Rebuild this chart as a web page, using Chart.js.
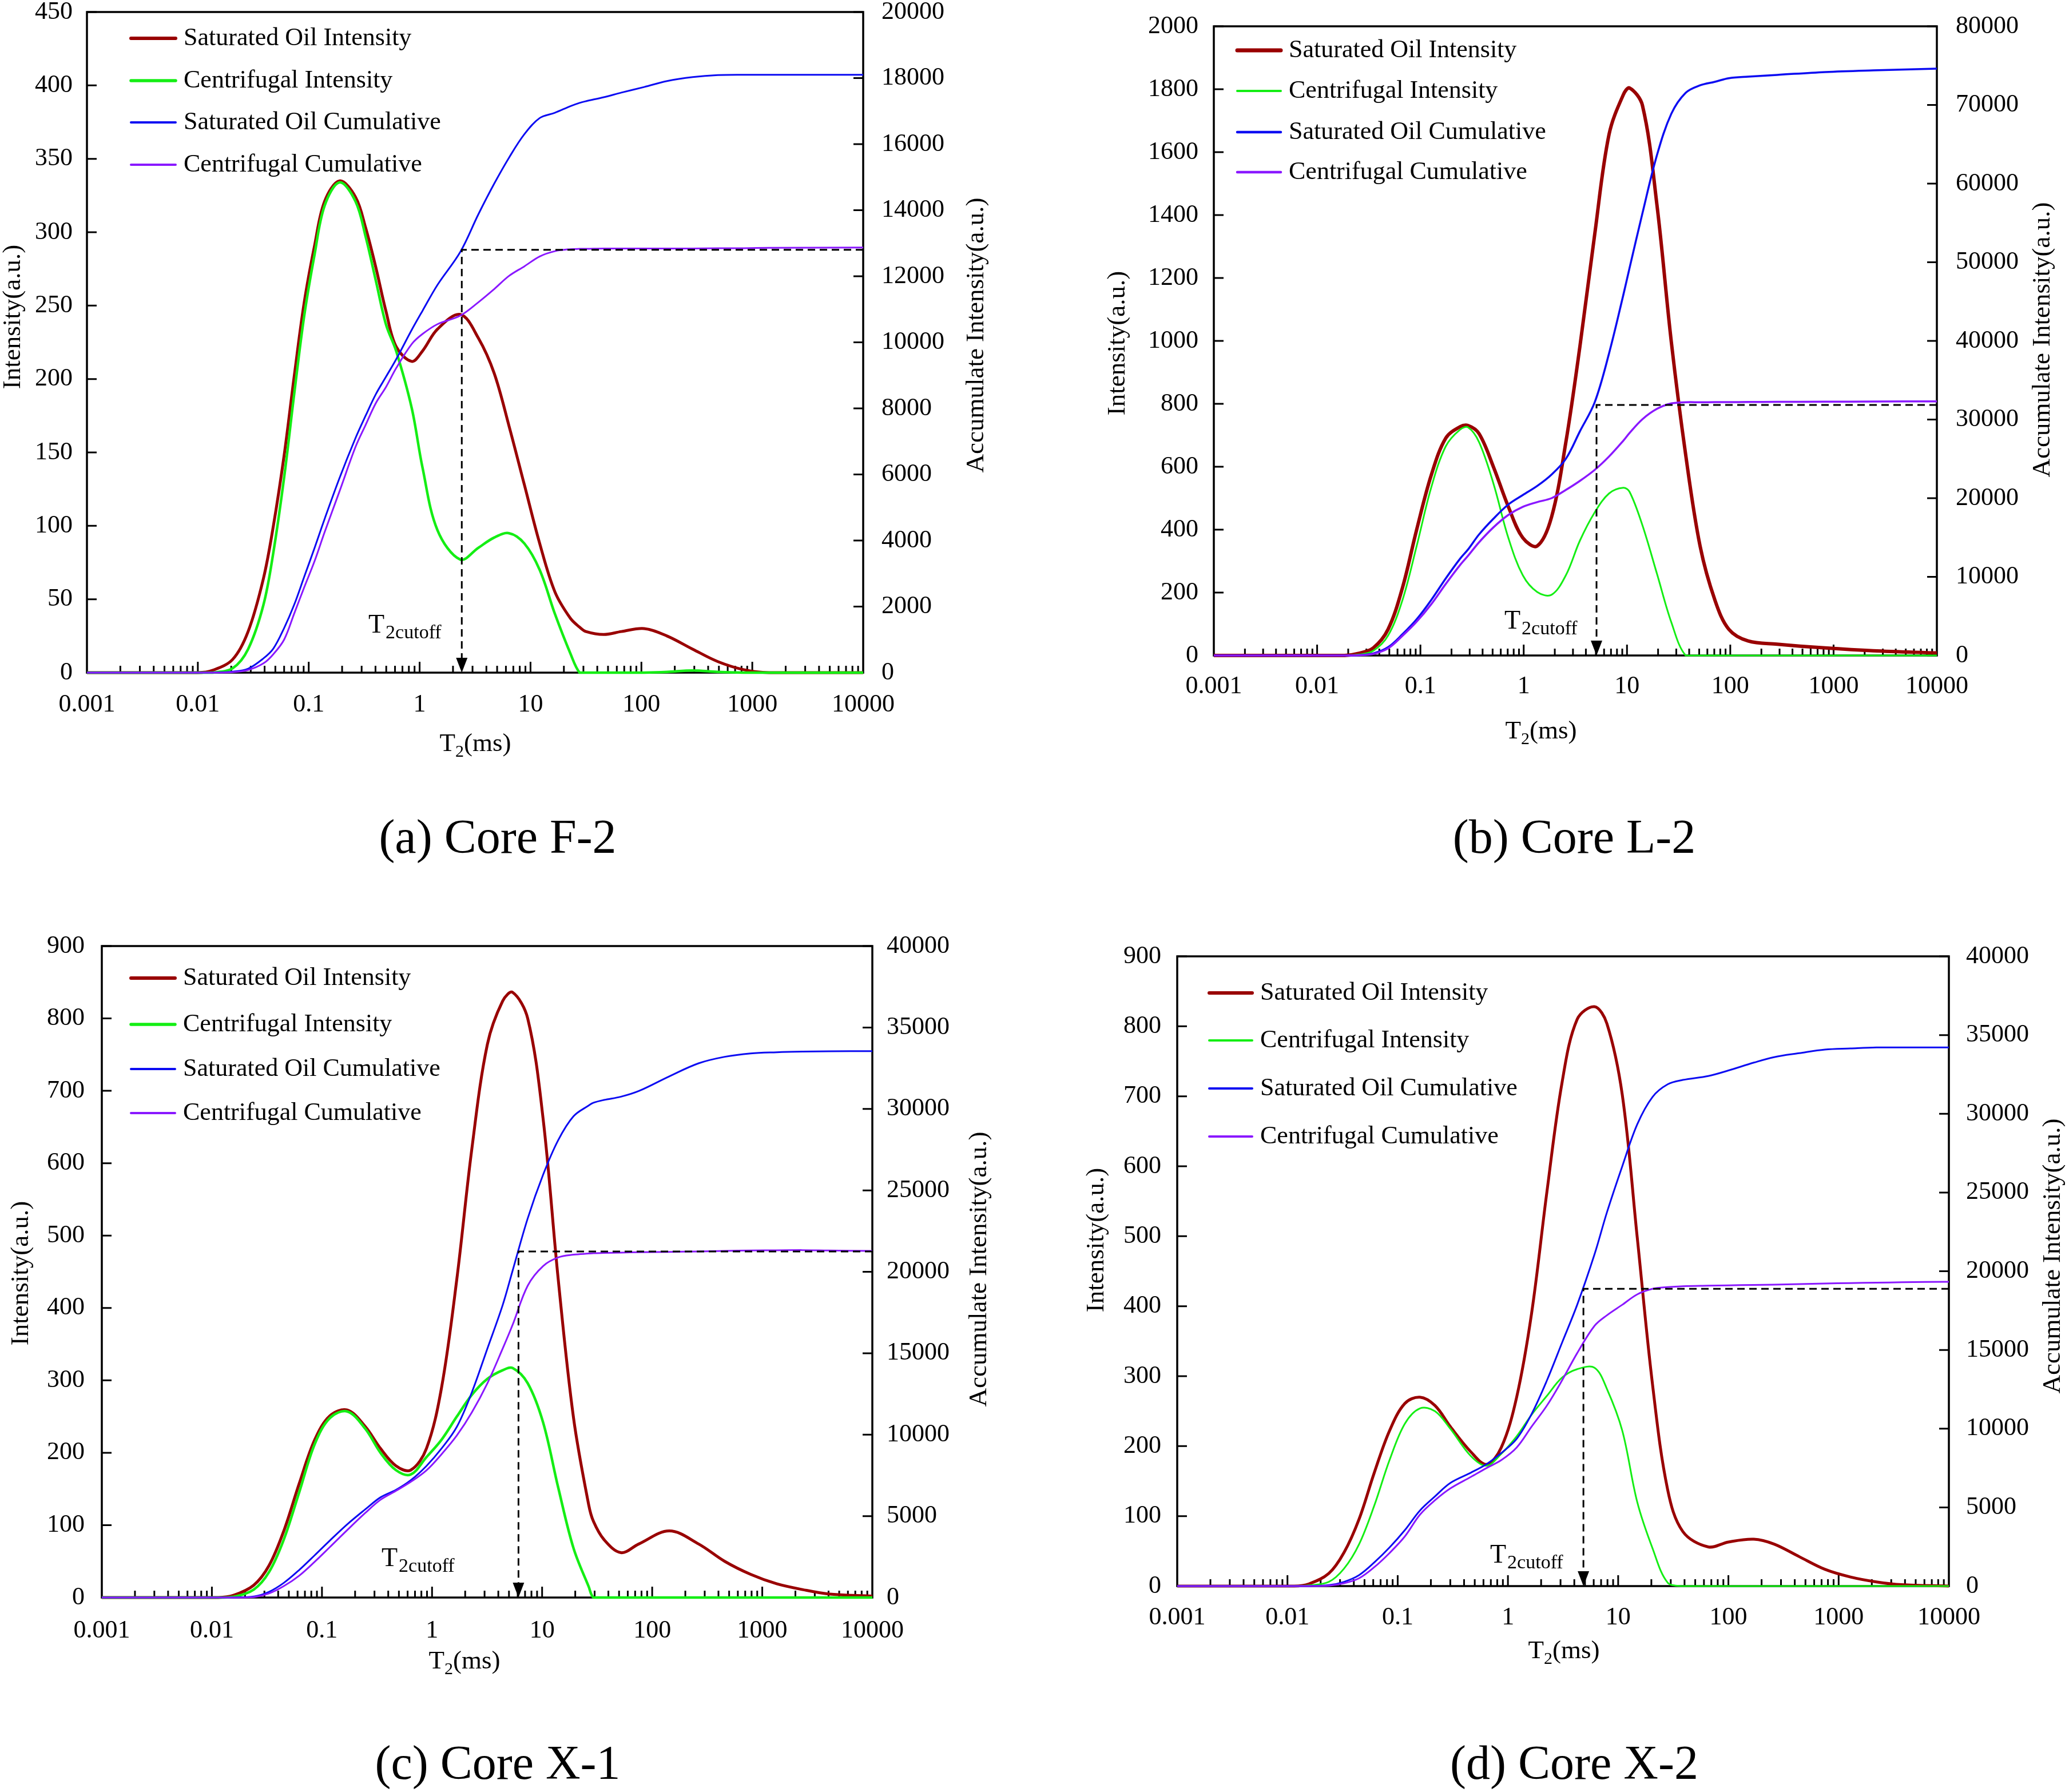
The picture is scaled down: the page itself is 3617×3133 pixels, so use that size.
<!DOCTYPE html>
<html>
<head>
<meta charset="utf-8">
<script src="https://cdn.jsdelivr.net/npm/chart.js@4.4.1/dist/chart.umd.min.js"></script>
<style>
html, body { margin: 0; padding: 0; background: #fff; }
body { width: 3617px; height: 3133px; position: relative; overflow: hidden; font-family: 'Liberation Serif', 'Times New Roman', serif; }
canvas { position: absolute; }
.cap { position: absolute; font-size: 84px; line-height: 1; transform: translate(-50%, -50%); white-space: nowrap; color: #000; }
</style>
</head>
<body>
<canvas id="cA"></canvas>
<canvas id="cB"></canvas>
<canvas id="cC"></canvas>
<canvas id="cD"></canvas>
<div class="cap" style="left:870px;top:1463px">(a) Core F-2</div>
<div class="cap" style="left:2752px;top:1463px">(b) Core L-2</div>
<div class="cap" style="left:870px;top:3082px">(c) Core X-1</div>
<div class="cap" style="left:2752px;top:3082px">(d) Core X-2</div>
<script>
// ---- data ----
var seriesNames = ['Saturated Oil Intensity', 'Centrifugal Intensity', 'Saturated Oil Cumulative', 'Centrifugal Cumulative'];
var xDecades = [0.001, 0.01, 0.1, 1, 10, 100, 1000, 10000];
var xTickLabels = ['0.001', '0.01', '0.1', '1', '10', '100', '1000', '10000'];

// (a) Core F-2
var aT2 = [0.001, 0.01, 0.0135, 0.0206, 0.0284, 0.039, 0.048, 0.06, 0.074, 0.091, 0.113, 0.139, 0.19, 0.264, 0.326, 0.403, 0.498, 0.615, 0.85, 1.06, 1.45, 2.33, 3.38, 4.7, 6.4, 8.8, 12.1, 16.6, 22.9, 27.7, 31.6, 45.7, 66, 106, 170, 290, 490, 840, 1420, 10000];
var aSatInt = [0, 0, 1.5, 9, 28, 64, 100, 148, 202, 252, 291, 321, 335, 324, 303, 276, 246, 222, 212, 219, 234, 244, 228, 204, 168, 128, 88, 55, 37, 31, 28, 26, 28, 30, 25, 16, 7.5, 2, 0, 0];
var aCenInt = [0, 0, 0, 3, 16, 46, 82, 133, 190, 243, 285, 318, 334, 321, 297, 267, 237, 219, 180, 140, 97, 77, 85, 92, 95, 88, 70, 40, 13, 0, 0, 0, 0, 0, 0.5, 1.5, 0.5, 0, 0, 0];
var aSatCum = [0, 0, 0, 30, 120, 430, 730, 1350, 2060, 2900, 3780, 4650, 5900, 7100, 7780, 8430, 8960, 9490, 10380, 10950, 11740, 12740, 13870, 14800, 15590, 16300, 16790, 16950, 17150, 17250, 17300, 17420, 17560, 17730, 17910, 18030, 18090, 18100, 18100, 18100];
var aCenCum = [0, 0, 0, 15, 80, 280, 560, 1000, 1790, 2580, 3380, 4250, 5500, 6830, 7500, 8160, 8650, 9220, 9950, 10250, 10550, 10810, 11210, 11610, 12010, 12300, 12600, 12760, 12820, 12830, 12830, 12840, 12840, 12840, 12840, 12840, 12850, 12850, 12860, 12870];
var aCutoff = [2.4, 12800];

// (b) Core L-2
var bT2 = [0.001, 0.01, 0.0185, 0.0255, 0.035, 0.0486, 0.067, 0.092, 0.127, 0.176, 0.242, 0.29, 0.37, 0.51, 0.71, 0.98, 1.35, 1.86, 2.56, 3.5, 4.87, 6.7, 9.2, 10.6, 14.1, 19.5, 26.9, 37, 51, 71, 97, 149, 284, 829, 2420, 10000];
var bSatInt = [0, 0, 0, 7, 24, 83, 215, 400, 572, 691, 727, 731, 705, 599, 473, 374, 348, 440, 678, 982, 1339, 1656, 1782, 1804, 1749, 1432, 995, 638, 348, 176, 83, 46, 36, 24, 15, 8];
var bCenInt = [0, 0, 0, 3, 15, 63, 176, 348, 533, 665, 718, 725, 678, 546, 374, 255, 202, 193, 255, 365, 455, 515, 533, 520, 414, 260, 105, 0, 0, 0, 0, 0, 0, 0, 0, 0];
var bSatCum = [0, 0, 0, 40, 264, 1050, 2700, 4600, 7030, 9800, 12300, 13500, 15400, 17400, 19200, 20400, 21550, 23000, 25010, 28500, 32200, 38400, 45800, 49300, 56210, 63620, 68900, 71550, 72500, 72950, 73400, 73600, 73820, 74190, 74400, 74610];
var bCenCum = [0, 0, 0, 30, 200, 900, 2500, 4300, 6500, 9100, 11500, 12700, 14400, 16300, 17870, 18900, 19500, 20000, 21050, 22200, 23600, 25300, 27300, 28300, 30040, 31360, 32050, 32200, 32200, 32210, 32220, 32230, 32250, 32270, 32290, 32310];
var bCutoff = [5.07, 31850];

// (c) Core X-1
var cT2 = [0.001, 0.0114, 0.0157, 0.024, 0.033, 0.045, 0.0623, 0.086, 0.118, 0.17, 0.248, 0.34, 0.47, 0.64, 0.89, 1.22, 1.68, 2.3, 3.18, 4.38, 5.4, 7.4, 10.2, 14, 19.3, 26.5, 29.3, 36.5, 52, 75.6, 143, 264, 456, 785, 1350, 2320, 3980, 10000];
var cSatInt = [0, 0, 3, 17, 44, 92, 158, 218, 251, 259, 236, 206, 182, 176, 206, 290, 440, 620, 764, 824, 836, 800, 662, 440, 248, 128, 105, 80, 62, 74, 92, 74, 50, 32, 19, 11, 5, 2];
var cCenInt = [0, 0, 1, 11, 35, 80, 146, 212, 248, 257, 233, 200, 176, 170, 194, 218, 250, 280, 302, 314, 317, 296, 242, 152, 68, 15, 0, 0, 0, 0, 0, 0, 0, 0, 0, 0, 0, 0];
var cSatCum = [0, 0, 0, 60, 350, 900, 1700, 2600, 3500, 4500, 5420, 6150, 6610, 7200, 8080, 9150, 10480, 12600, 15280, 17950, 20080, 23280, 25950, 28080, 29550, 30210, 30380, 30550, 30750, 31100, 32000, 32800, 33200, 33410, 33480, 33520, 33540, 33550];
var cCenCum = [0, 0, 0, 30, 250, 700, 1350, 2200, 3100, 4150, 5200, 6000, 6550, 7100, 7810, 8800, 9950, 11370, 13150, 15280, 16750, 19150, 20350, 20880, 21050, 21120, 21140, 21160, 21180, 21200, 21220, 21250, 21280, 21310, 21320, 21330, 21310, 21280];
var cCutoff = [6.1, 21250];

// (d) Core X-2
var dT2 = [0.001, 0.0115, 0.0156, 0.0237, 0.0326, 0.0447, 0.0613, 0.0843, 0.116, 0.159, 0.218, 0.3, 0.46, 0.64, 0.87, 1.2, 1.64, 2.26, 3.1, 4.25, 6.1, 7.9, 10.9, 14.9, 20.5, 28.1, 38.6, 65.6, 100, 170, 260, 440, 750, 1280, 2200, 3740, 10000];
var dSatInt = [0, 0, 3, 18, 48, 96, 162, 222, 261, 270, 258, 228, 192, 174, 198, 270, 390, 564, 720, 810, 828, 804, 702, 498, 288, 138, 78, 56, 63, 67, 60, 42, 24, 13, 6, 2, 0];
var dCenInt = [0, 0, 1, 6, 25, 60, 115, 180, 232, 254, 250, 225, 186, 172, 189, 214, 245, 272, 298, 310, 312, 282, 222, 120, 54, 5, 0, 0, 0, 0, 0, 0, 0, 0, 0, 0, 0];
var dSatCum = [0, 0, 0, 60, 270, 700, 1500, 2450, 3550, 4800, 5700, 6550, 7200, 7750, 8450, 9350, 10930, 13070, 15470, 17870, 21070, 23730, 26670, 29330, 31070, 31870, 32150, 32400, 32750, 33250, 33600, 33850, 34080, 34150, 34210, 34210, 34210];
var dCenCum = [0, 0, 0, 30, 180, 500, 1200, 2100, 3150, 4530, 5450, 6200, 6930, 7500, 8000, 8800, 10130, 11470, 13070, 14800, 16530, 17200, 17870, 18530, 18880, 18990, 19050, 19080, 19100, 19130, 19150, 19180, 19220, 19250, 19270, 19300, 19330];
var dCutoff = [4.84, 18880];

// ---- styling / layout ----
var FONT = "'Liberation Serif', 'Times New Roman', serif";
var seriesColors = ['#990000', '#14EE14', '#0C0CF2', '#8A18FF'];
Chart.defaults.font.family = FONT;
Chart.defaults.color = '#000';

var panels = [
    { id: 'cA', left: 0, top: 0, w: 1800, h: 1400, area: { l: 152, t: 21, r: 1509, b: 1176 },
      yMax: 450, yStep: 50, rMax: 20000, rStep: 2000, pad: [25, 32, 30],
      T2: aT2, vals: [aSatInt, aCenInt, aSatCum, aCenCum], cut: aCutoff, widths: [5, 4.5, 3, 3],
      legend: { x0: 229, x1: 307, tx: 321, ys: [67, 141, 214, 288] },
      cutLabel: [644, 1106], lTitle: [23, 554], rTitle: [1707, 586], xTitle: [831, 1313] },
    { id: 'cB', left: 1830, top: 0, w: 1787, h: 1400, area: { l: 2122, t: 46, r: 3386, b: 1146 },
      yMax: 2000, yStep: 200, rMax: 80000, rStep: 10000, pad: [27, 33, 28],
      T2: bT2, vals: [bSatInt, bCenInt, bSatCum, bCenCum], cut: bCutoff, widths: [6, 3, 3.5, 3.5],
      legend: { x0: 2163, x1: 2239, tx: 2253, ys: [88, 159, 231, 301] },
      cutLabel: [2630, 1099], lTitle: [1954, 600], rTitle: [3571, 594], xTitle: [2694, 1291] },
    { id: 'cC', left: 0, top: 1600, w: 1800, h: 1400, area: { l: 178, t: 1654, r: 1525, b: 2793 },
      yMax: 900, yStep: 100, rMax: 40000, rStep: 5000, pad: [30, 25, 32],
      T2: cT2, vals: [cSatInt, cCenInt, cSatCum, cCenCum], cut: cCutoff, widths: [5, 4.5, 3, 3],
      legend: { x0: 229, x1: 306, tx: 320, ys: [1710, 1791, 1869, 1946] },
      cutLabel: [667, 2738], lTitle: [37, 2226], rTitle: [1712, 2219], xTitle: [812, 2917] },
    { id: 'cD', left: 1830, top: 1600, w: 1787, h: 1400, area: { l: 2058, t: 1672, r: 3407, b: 2773 },
      yMax: 900, yStep: 100, rMax: 40000, rStep: 5000, pad: [28, 30, 29],
      T2: dT2, vals: [dSatInt, dCenInt, dSatCum, dCenCum], cut: dCutoff, widths: [5, 3, 3, 3],
      legend: { x0: 2114, x1: 2189, tx: 2203, ys: [1736, 1819, 1903, 1987] },
      cutLabel: [2605, 2732], lTitle: [1917, 2168], rTitle: [3589, 2196], xTitle: [2734, 2899] }
];

function pts(xs, ys) {
    return ys.map(function(v, i) { return { x: xs[i], y: v }; });
}

function plainNum(v) { return String(v); }

function xLabel(v) {
    var i = xDecades.indexOf(v);
    return i >= 0 ? xTickLabels[i] : '';
}

function vText(ctx, text, x, y) {
    ctx.save();
    ctx.translate(x, y);
    ctx.rotate(-Math.PI / 2);
    ctx.textAlign = 'center';
    ctx.textBaseline = 'middle';
    ctx.fillText(text, 0, 0);
    ctx.restore();
}

function makeDecor(p) {
    var ox = p.left, oy = p.top;
    return {
        id: 'decor',
        beforeDatasetsDraw: function(chart) {
            var ctx = chart.ctx, a = chart.chartArea;
            var sx = chart.scales.x, sy = chart.scales.y, sr = chart.scales.y1;
            ctx.save();
            ctx.strokeStyle = '#000';
            ctx.lineWidth = 3;
            ctx.beginPath();
            sx.ticks.forEach(function(t) {
                var px = sx.getPixelForValue(t.value);
                if (px < a.left + 3 || px > a.right - 3) return;
                var len = xDecades.indexOf(t.value) >= 0 ? 19 : 12;
                ctx.moveTo(px, a.bottom);
                ctx.lineTo(px, a.bottom - len);
            });
            sy.ticks.forEach(function(t) {
                var py = sy.getPixelForValue(t.value);
                ctx.moveTo(a.left, py);
                ctx.lineTo(a.left + 17, py);
            });
            sr.ticks.forEach(function(t) {
                var py = sr.getPixelForValue(t.value);
                ctx.moveTo(a.right, py);
                ctx.lineTo(a.right - 17, py);
            });
            ctx.stroke();
            ctx.lineWidth = 3.5;
            ctx.strokeRect(a.left, a.top, a.right - a.left, a.bottom - a.top);
            ctx.restore();
        },
        afterDatasetsDraw: function(chart) {
            var ctx = chart.ctx, a = chart.chartArea;
            var sx = chart.scales.x, sr = chart.scales.y1;
            ctx.save();

            // T2 cutoff guide
            var cx = sx.getPixelForValue(p.cut[0]), cy = sr.getPixelForValue(p.cut[1]);
            ctx.strokeStyle = '#000';
            ctx.lineWidth = 3;
            ctx.setLineDash([13, 8]);
            ctx.beginPath();
            ctx.moveTo(a.right, cy);
            ctx.lineTo(cx, cy);
            ctx.lineTo(cx, a.bottom - 24);
            ctx.stroke();
            ctx.setLineDash([]);
            ctx.fillStyle = '#000';
            ctx.beginPath();
            ctx.moveTo(cx - 10, a.bottom - 26);
            ctx.lineTo(cx + 10, a.bottom - 26);
            ctx.lineTo(cx, a.bottom);
            ctx.closePath();
            ctx.fill();

            ctx.textAlign = 'left';
            ctx.textBaseline = 'alphabetic';
            ctx.font = '46px ' + FONT;
            var lx = p.cutLabel[0] - ox, ly = p.cutLabel[1] - oy;
            ctx.fillText('T', lx, ly);
            var tw = ctx.measureText('T').width;
            ctx.font = '34px ' + FONT;
            ctx.fillText('2cutoff', lx + tw + 2, ly + 10);

            // legend
            ctx.font = '44px ' + FONT;
            ctx.textBaseline = 'middle';
            ctx.lineCap = 'round';
            chart.data.datasets.forEach(function(d, i) {
                var y = p.legend.ys[i] - oy;
                ctx.strokeStyle = d.borderColor;
                ctx.lineWidth = d.borderWidth + 1;
                ctx.beginPath();
                ctx.moveTo(p.legend.x0 - ox, y);
                ctx.lineTo(p.legend.x1 - ox, y);
                ctx.stroke();
                ctx.fillStyle = '#000';
                ctx.fillText(d.label, p.legend.tx - ox, y);
            });

            // axis titles
            ctx.fillStyle = '#000';
            ctx.font = '45px ' + FONT;
            vText(ctx, 'Intensity(a.u.)', p.lTitle[0] - ox, p.lTitle[1] - oy);
            vText(ctx, 'Accumulate Intensity(a.u.)', p.rTitle[0] - ox, p.rTitle[1] - oy);

            ctx.textAlign = 'left';
            ctx.textBaseline = 'alphabetic';
            var w1 = ctx.measureText('T').width, w3 = ctx.measureText('(ms)').width;
            ctx.font = '30px ' + FONT;
            var w2 = ctx.measureText('2').width;
            var sx0 = p.xTitle[0] - ox - (w1 + w2 + w3) / 2, by = p.xTitle[1] - oy;
            ctx.font = '45px ' + FONT;
            ctx.fillText('T', sx0, by);
            ctx.fillText('(ms)', sx0 + w1 + w2, by);
            ctx.font = '30px ' + FONT;
            ctx.fillText('2', sx0 + w1, by + 10);

            ctx.restore();
        }
    };
}

function makePanel(p) {
    var cv = document.getElementById(p.id);
    cv.width = p.w;
    cv.height = p.h;
    cv.style.left = p.left + 'px';
    cv.style.top = p.top + 'px';
    cv.style.width = p.w + 'px';
    cv.style.height = p.h + 'px';

    var yw = p.area.l - p.left;
    var rw = p.left + p.w - p.area.r;
    var xh = p.top + p.h - p.area.b;
    var tp = p.area.t - p.top;
    var tickFont = { family: FONT, size: 44 };

    var ds = p.vals.map(function(v, i) {
        return {
            label: seriesNames[i],
            data: pts(p.T2, v),
            yAxisID: i < 2 ? 'y' : 'y1',
            borderColor: seriesColors[i],
            backgroundColor: seriesColors[i],
            borderWidth: p.widths[i],
            pointRadius: 0,
            fill: false,
            tension: 0.35,
            capBezierPoints: true,
            clip: false,
            order: 4 - i
        };
    });

    new Chart(cv, {
        type: 'line',
        data: { datasets: ds },
        options: {
            responsive: false,
            animation: false,
            devicePixelRatio: 1,
            layout: { padding: { top: tp, left: 0, right: 0, bottom: 0 }, autoPadding: false },
            plugins: { legend: { display: false }, tooltip: { enabled: false } },
            scales: {
                x: {
                    type: 'logarithmic', position: 'bottom', min: 0.001, max: 10000,
                    grid: { display: false, drawTicks: false }, border: { display: false },
                    afterBuildTicks: function(s) {
                        var t = [];
                        xDecades.forEach(function(d, i) {
                            t.push({ value: d });
                            if (i < xDecades.length - 1) {
                                for (var k = 2; k < 10; k++) t.push({ value: d * k });
                            }
                        });
                        s.ticks = t;
                    },
                    ticks: { autoSkip: false, maxRotation: 0, minRotation: 0, padding: p.pad[2], color: '#000', font: tickFont, callback: xLabel },
                    afterFit: function(s) { s.height = xh; s.paddingLeft = 0; s.paddingRight = 0; }
                },
                y: {
                    axis: 'y', position: 'left', min: 0, max: p.yMax,
                    grid: { display: false, drawTicks: false }, border: { display: false },
                    ticks: { stepSize: p.yStep, padding: p.pad[0], color: '#000', font: tickFont, callback: plainNum },
                    afterFit: function(s) { s.width = yw; s.paddingTop = 0; s.paddingBottom = 0; }
                },
                y1: {
                    axis: 'y', position: 'right', min: 0, max: p.rMax,
                    grid: { display: false, drawTicks: false }, border: { display: false },
                    ticks: { stepSize: p.rStep, padding: p.pad[1], color: '#000', font: tickFont, callback: plainNum },
                    afterFit: function(s) { s.width = rw; s.paddingTop = 0; s.paddingBottom = 0; }
                }
            }
        },
        plugins: [makeDecor(p)]
    });
}

panels.forEach(makePanel);
</script>
</body>
</html>
